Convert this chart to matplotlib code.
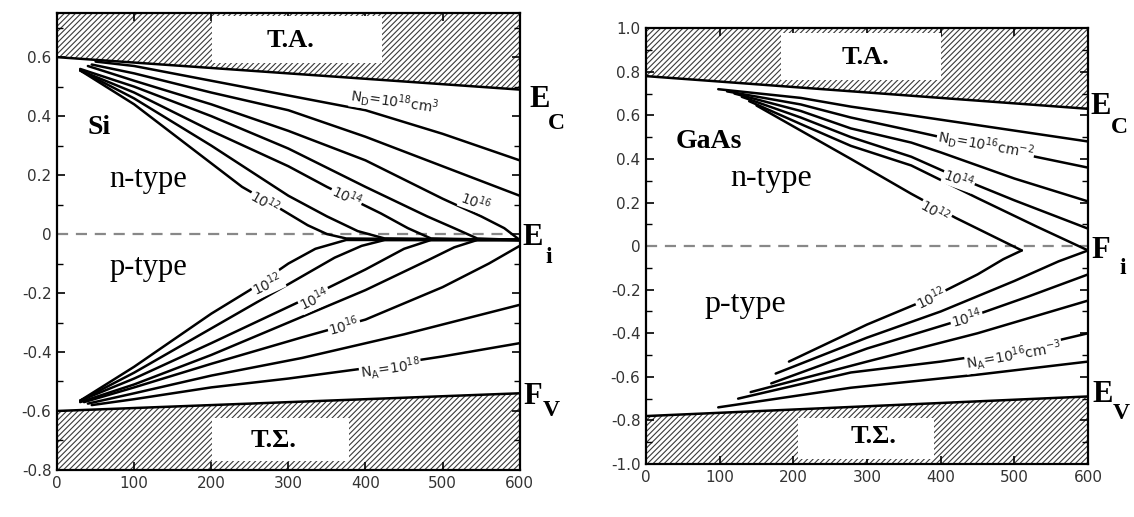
import numpy as np
import matplotlib.pyplot as plt
from matplotlib.patches import Rectangle

plt.rcParams['hatch.linewidth'] = 0.8
SERIF = 'Liberation Serif'

# ---- Si: (T [K], E_F - E_i [eV]) ----
si_n_T = {
    '1e12': [30, 100, 200, 240, 290, 325, 350, 375, 600],
    '1e13': [30, 100, 200, 300, 350, 390, 425, 600],
    '1e14': [30, 100, 200, 300, 350, 420, 455, 485, 600],
    '1e15': [30, 100, 200, 300, 400, 480, 515, 545, 600],
    '1e16': [40, 100, 200, 300, 400, 500, 550, 580, 600],
    '1e17': [45, 100, 200, 300, 400, 500, 600],
    '1e18': [50, 100, 200, 300, 400, 500, 600],
}
si_n_E = {
    '1e12': [0.555, 0.44, 0.24, 0.16, 0.085, 0.03, 0.0, -0.015, -0.02],
    '1e13': [0.555, 0.46, 0.30, 0.13, 0.06, 0.01, -0.015, -0.02],
    '1e14': [0.555, 0.48, 0.35, 0.23, 0.16, 0.07, 0.02, -0.015, -0.02],
    '1e15': [0.56, 0.50, 0.40, 0.29, 0.16, 0.06, 0.02, -0.015, -0.02],
    '1e16': [0.57, 0.52, 0.44, 0.35, 0.25, 0.12, 0.06, 0.02, -0.02],
    '1e17': [0.575, 0.545, 0.48, 0.42, 0.33, 0.23, 0.13],
    '1e18': [0.585, 0.57, 0.52, 0.47, 0.42, 0.34, 0.25],
}
si_p_T = {
    '1e12': [30, 100, 200, 250, 300, 335, 375, 600],
    '1e13': [30, 100, 200, 300, 360, 395, 425, 600],
    '1e14': [30, 100, 200, 330, 400, 450, 485, 600],
    '1e15': [30, 100, 200, 300, 400, 480, 515, 545, 600],
    '1e16': [35, 100, 200, 318, 400, 500, 560, 600],
    '1e17': [40, 100, 200, 318, 450, 600],
    '1e18': [45, 100, 200, 300, 400, 500, 600],
}
si_p_E = {
    '1e12': [-0.565, -0.45, -0.27, -0.19, -0.10, -0.05, -0.02, -0.02],
    '1e13': [-0.565, -0.47, -0.32, -0.17, -0.08, -0.04, -0.02, -0.02],
    '1e14': [-0.565, -0.49, -0.37, -0.21, -0.12, -0.05, -0.02, -0.02],
    '1e15': [-0.57, -0.51, -0.41, -0.30, -0.19, -0.09, -0.045, -0.02, -0.02],
    '1e16': [-0.57, -0.52, -0.44, -0.35, -0.29, -0.18, -0.10, -0.04],
    '1e17': [-0.575, -0.54, -0.48, -0.42, -0.34, -0.24],
    '1e18': [-0.58, -0.56, -0.52, -0.49, -0.455, -0.415, -0.37],
}
si_band_T = [0, 600]
si_Ec = [0.60, 0.49]
si_Ev = [-0.60, -0.54]

# ---- GaAs ----
gaas_n_T = {
    '1e12': [150, 210, 278, 360, 420, 480, 510],
    '1e13': [140, 210, 278, 360, 450, 530, 600],
    '1e14': [130, 210, 278, 360, 420, 500, 600],
    '1e15': [120, 210, 278, 360, 400, 500, 600],
    '1e16': [110, 210, 278, 360, 400, 500, 600],
    '1e17': [98, 210, 278, 360, 500, 600],
}
gaas_n_E = {
    '1e12': [0.645, 0.53, 0.40, 0.24, 0.13, 0.03, -0.02],
    '1e13': [0.665, 0.56, 0.46, 0.37, 0.22, 0.09, -0.02],
    '1e14': [0.685, 0.59, 0.50, 0.41, 0.32, 0.21, 0.08],
    '1e15': [0.70, 0.62, 0.54, 0.475, 0.43, 0.31, 0.205],
    '1e16': [0.71, 0.65, 0.59, 0.53, 0.50, 0.43, 0.36],
    '1e17': [0.72, 0.68, 0.64, 0.60, 0.53, 0.48],
}
gaas_p_T = {
    '1e12': [194, 300, 385, 450, 485, 510],
    '1e13': [176, 300, 400, 500, 560, 600],
    '1e14': [170, 300, 436, 520, 600],
    '1e15': [142, 300, 450, 600],
    '1e16': [125, 278, 400, 500, 600],
    '1e17': [98, 278, 450, 600],
}
gaas_p_E = {
    '1e12': [-0.53, -0.36, -0.24, -0.13, -0.06, -0.02],
    '1e13': [-0.585, -0.42, -0.30, -0.16, -0.07, -0.02],
    '1e14': [-0.63, -0.47, -0.33, -0.23, -0.13],
    '1e15': [-0.67, -0.53, -0.40, -0.25],
    '1e16': [-0.70, -0.58, -0.53, -0.48, -0.40],
    '1e17': [-0.74, -0.65, -0.59, -0.53],
}
gaas_band_T = [0, 600]
gaas_Ec = [0.78, 0.63]
gaas_Ev = [-0.78, -0.69]

si_yticks = [-0.8, -0.6, -0.4, -0.2, 0, 0.2, 0.4, 0.6]
si_ylabels = ['-0.8', '-0.6', '-0.4', '-0.2', '0', '0.2', '0.4', '0.6']
gaas_yticks = [-1.0, -0.8, -0.6, -0.4, -0.2, 0, 0.2, 0.4, 0.6, 0.8, 1.0]
gaas_ylabels = ['-1.0', '-0.8', '-0.6', '-0.4', '-0.2', '0', '0.2', '0.4', '0.6', '0.8', '1.0']
xticks = [0, 100, 200, 300, 400, 500, 600]


def style_axes(ax, ylim, yticks, ylabels):
    ax.set_xlim(0, 600)
    ax.set_ylim(*ylim)
    ax.set_xticks(xticks)
    ax.set_xticklabels([str(t) for t in xticks])
    ax.set_yticks(yticks)
    ax.set_yticklabels(ylabels)
    ax.set_yticks(np.arange(ylim[0], ylim[1] + 0.001, 0.1), minor=True)
    ax.tick_params(direction='in', length=6, width=1.2, right=True, top=True,
                   labelsize=11, labelcolor='#333333', pad=4)
    ax.tick_params(which='minor', direction='in', length=4, width=1.0, right=True)
    for s in ax.spines.values():
        s.set_linewidth(1.6)


def bands(ax, T, Ec, Ev, top, bottom):
    ax.fill_between(T, Ec, top, facecolor='white', edgecolor='#3a3a3a',
                    hatch='//////', linewidth=0, zorder=1)
    ax.fill_between(T, bottom, Ev, facecolor='white', edgecolor='#3a3a3a',
                    hatch='//////', linewidth=0, zorder=1)
    ax.plot(T, Ec, color='black', lw=1.8, zorder=3)
    ax.plot(T, Ev, color='black', lw=1.8, zorder=3)


def curves(ax, Tdict, Edict):
    for k in Tdict:
        ax.plot(Tdict[k], Edict[k], color='black', lw=1.8, zorder=3,
                solid_capstyle='round', solid_joinstyle='round')


def curve_label(ax, x, y, s, rot, size=10):
    ax.text(x, y, s, rotation=rot, fontsize=size, ha='center', va='center',
            color='#222222', zorder=5, rotation_mode='anchor',
            bbox=dict(fc='white', ec='none', pad=0.6))


def band_label(ax, x, y, main, sub, dx, dy):
    ax.text(x, y, main, fontsize=22, fontweight='bold', family=SERIF,
            ha='center', va='center', clip_on=False)
    ax.text(x + dx, y + dy, sub, fontsize=17, fontweight='bold', family=SERIF,
            ha='center', va='center', clip_on=False)


fig = plt.figure(figsize=(11.34, 5.17), dpi=100)

# ---------------- Si ----------------
ax1 = fig.add_axes([0.0503, 0.091, 0.408, 0.884])
style_axes(ax1, (-0.8, 0.75), si_yticks, si_ylabels)
bands(ax1, si_band_T, si_Ec, si_Ev, 0.75, -0.8)
ax1.add_patch(Rectangle((201, 0.58), 221, 0.16, fc='white', ec='none', zorder=2))
ax1.add_patch(Rectangle((201, -0.77), 177, 0.145, fc='white', ec='none', zorder=2))
ax1.text(303, 0.655, 'T.A.', fontsize=19, fontweight='bold', family=SERIF,
         ha='center', va='center', zorder=4)
ax1.text(281, -0.70, 'T.Σ.', fontsize=19, fontweight='bold', family=SERIF,
         ha='center', va='center', zorder=4)
ax1.plot([0, 590], [0, 0], color='#888888', lw=1.6, ls=(0, (5, 3.5)), zorder=2)
curves(ax1, si_n_T, si_n_E)
curves(ax1, si_p_T, si_p_E)
ax1.text(55, 0.36, 'Si', fontsize=20, fontweight='bold', family=SERIF,
         ha='center', va='center')
ax1.text(68, 0.185, 'n-type', fontsize=22, family=SERIF, ha='left', va='center')
ax1.text(68, -0.115, 'p-type', fontsize=22, family=SERIF, ha='left', va='center')
curve_label(ax1, 438, 0.45, r'N$_\mathrm{D}$=10$^{18}$cm$^3$', -8)
curve_label(ax1, 543, 0.11, r'10$^{16}$', -20)
curve_label(ax1, 376, 0.13, r'10$^{14}$', -25)
curve_label(ax1, 270, 0.11, r'10$^{12}$', -30)
curve_label(ax1, 273, -0.17, r'10$^{12}$', 25)
curve_label(ax1, 334, -0.22, r'10$^{14}$', 25)
curve_label(ax1, 372, -0.31, r'10$^{16}$', 15)
curve_label(ax1, 432, -0.455, r'N$_\mathrm{A}$=10$^{18}$', 8)
band_label(ax1, 626, 0.456, 'E', 'C', 21, -0.08)
band_label(ax1, 617, -0.01, 'E', 'i', 21, -0.07)
band_label(ax1, 617, -0.55, 'F', 'V', 24, -0.05)

# ---------------- GaAs ----------------
ax2 = fig.add_axes([0.5697, 0.1025, 0.3898, 0.843])
style_axes(ax2, (-1.0, 1.0), gaas_yticks, gaas_ylabels)
bands(ax2, gaas_band_T, gaas_Ec, gaas_Ev, 1.0, -1.0)
ax2.add_patch(Rectangle((183, 0.76), 217, 0.22, fc='white', ec='none', zorder=2))
ax2.add_patch(Rectangle((206, -0.975), 185, 0.185, fc='white', ec='none', zorder=2))
ax2.text(298, 0.865, 'T.A.', fontsize=19, fontweight='bold', family=SERIF,
         ha='center', va='center', zorder=4)
ax2.text(309, -0.875, 'T.Σ.', fontsize=19, fontweight='bold', family=SERIF,
         ha='center', va='center', zorder=4)
ax2.plot([0, 600], [0, 0], color='#888888', lw=1.6, ls=(0, (5, 3.5)), zorder=2)
curves(ax2, gaas_n_T, gaas_n_E)
curves(ax2, gaas_p_T, gaas_p_E)
ax2.text(85, 0.48, 'GaAs', fontsize=20, fontweight='bold', family=SERIF,
         ha='center', va='center')
ax2.text(115, 0.31, 'n-type', fontsize=23, family=SERIF, ha='left', va='center')
ax2.text(79, -0.27, 'p-type', fontsize=23, family=SERIF, ha='left', va='center')
curve_label(ax2, 461, 0.465, r'N$_\mathrm{D}$=10$^{16}$cm$^{-2}$', -10)
curve_label(ax2, 425, 0.31, r'10$^{14}$', -20)
curve_label(ax2, 393, 0.16, r'10$^{12}$', -30)
curve_label(ax2, 387, -0.24, r'10$^{12}$', 25)
curve_label(ax2, 435, -0.33, r'10$^{14}$', 15)
curve_label(ax2, 499, -0.50, r'N$_\mathrm{A}$=10$^{16}$cm$^{-3}$', 10)
band_label(ax2, 617, 0.64, 'E', 'C', 26, -0.095)
band_label(ax2, 617, -0.02, 'F', 'i', 30, -0.085)
band_label(ax2, 620, -0.68, 'E', 'V', 25, -0.09)

fig.savefig('out.png', dpi=100)
